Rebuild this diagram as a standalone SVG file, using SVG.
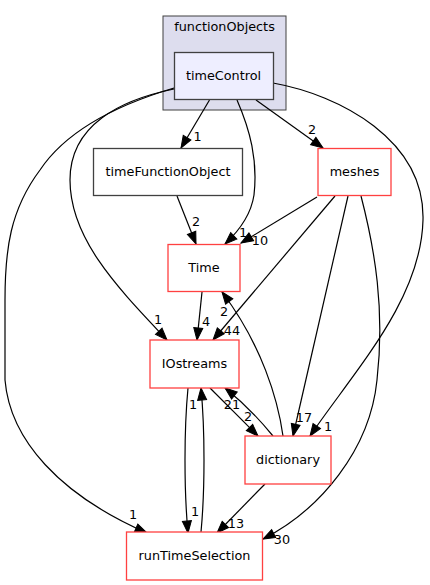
<svg xmlns="http://www.w3.org/2000/svg" width="430" height="585" viewBox="0 0 430 585">
<defs>
<style>
text{font-family:"DejaVu Sans","Liberation Sans",sans-serif;font-size:12.8px;fill:#000;text-anchor:middle}
.cl{fill:#ddddee;stroke:#404040;stroke-width:1}
.n{fill:#fff;stroke:#404040;stroke-width:1.3}
.sel{fill:#eeeeff;stroke:#404040;stroke-width:1.3}
.tr{fill:#fff;stroke:#ff4040;stroke-width:1.3}
.e{fill:none;stroke:#000;stroke-width:1.2;marker-end:url(#ah)}
</style>
<marker id="ah" markerUnits="userSpaceOnUse" markerWidth="14" markerHeight="11" refX="12" refY="4.5" orient="auto" overflow="visible">
<path d="M0,0 L12,4.5 L0,9 z" fill="#000" stroke="#000" stroke-width="1"/>
</marker>
</defs>
<rect width="430" height="585" fill="#fff"/>
<g id="cluster_functionObjects">
<rect class="cl" x="163" y="16" width="123" height="94"/>
<text x="224.5" y="31">functionObjects</text>
</g>
<g id="edges">
<path class="e" d="M209.5,100 L181,148"/>
<path class="e" d="M237,100 C250,130 258,160 254,195 C251,215 240,230 225,244"/>
<path class="e" d="M256,100 L323,148"/>
<path class="e" d="M273,83 C340,95 425,140 423,220 C421,300 355,370 310,436"/>
<path class="e" d="M174,89 C120,100 70,125 70,180 C70,240 120,290 167,340"/>
<path class="e" d="M174,88 C100,110 60,140 40,170 C10,210 5,250 5,300 L5,380 C10,440 60,495 147,533"/>
<path class="e" d="M177,196 L196,244"/>
<path class="e" d="M317,197 L241,243"/>
<path class="e" d="M335,196 L213,340"/>
<path class="e" d="M348,196 L293,436"/>
<path class="e" d="M361,196 C375,250 385,310 377,380 C370,450 320,510 263,539"/>
<path class="e" d="M202,292 L197,340"/>
<path class="e" d="M283,436 C278,400 262,345 222,292"/>
<path class="e" d="M273,436 C260,420 240,400 225,388"/>
<path class="e" d="M210,388 L258,436"/>
<path class="e" d="M188,388 C184,430 184,490 188,533"/>
<path class="e" d="M201,532 C205,490 205,430 201,388"/>
<path class="e" d="M265,484 L217,533"/>
<text x="197.5" y="141">1</text>
<text x="243" y="237">1</text>
<text x="312" y="134">2</text>
<text x="328" y="431">1</text>
<text x="158" y="324">1</text>
<text x="133" y="519">1</text>
<text x="196" y="226">2</text>
<text x="260" y="245">10</text>
<text x="232" y="335">44</text>
<text x="304" y="422">17</text>
<text x="282" y="544">30</text>
<text x="206" y="326">4</text>
<text x="224" y="316">2</text>
<text x="232" y="409">21</text>
<text x="248" y="421">2</text>
<text x="195" y="516">1</text>
<text x="193" y="409">1</text>
<text x="236" y="528">13</text>
</g>
<g id="node_timeControl">
<rect class="sel" x="174.5" y="52.5" width="99" height="47"/>
<text x="223.5" y="80">timeControl</text>
</g>
<g id="node_timeFunctionObject">
<rect class="n" x="93.5" y="148.5" width="149" height="47"/>
<text x="168" y="176">timeFunctionObject</text>
</g>
<g id="node_meshes">
<rect class="tr" x="318" y="148.5" width="73" height="47"/>
<text x="354.5" y="176">meshes</text>
</g>
<g id="node_Time">
<rect class="tr" x="168" y="244.5" width="72" height="47"/>
<text x="204" y="272">Time</text>
</g>
<g id="node_IOstreams">
<rect class="tr" x="150" y="340" width="89" height="48"/>
<text x="194.5" y="368">IOstreams</text>
</g>
<g id="node_dictionary">
<rect class="tr" x="245" y="436" width="86" height="48"/>
<text x="288" y="464">dictionary</text>
</g>
<g id="node_runTimeSelection">
<rect class="tr" x="126.5" y="532" width="136" height="48"/>
<text x="194.5" y="560">runTimeSelection</text>
</g>
</svg>
